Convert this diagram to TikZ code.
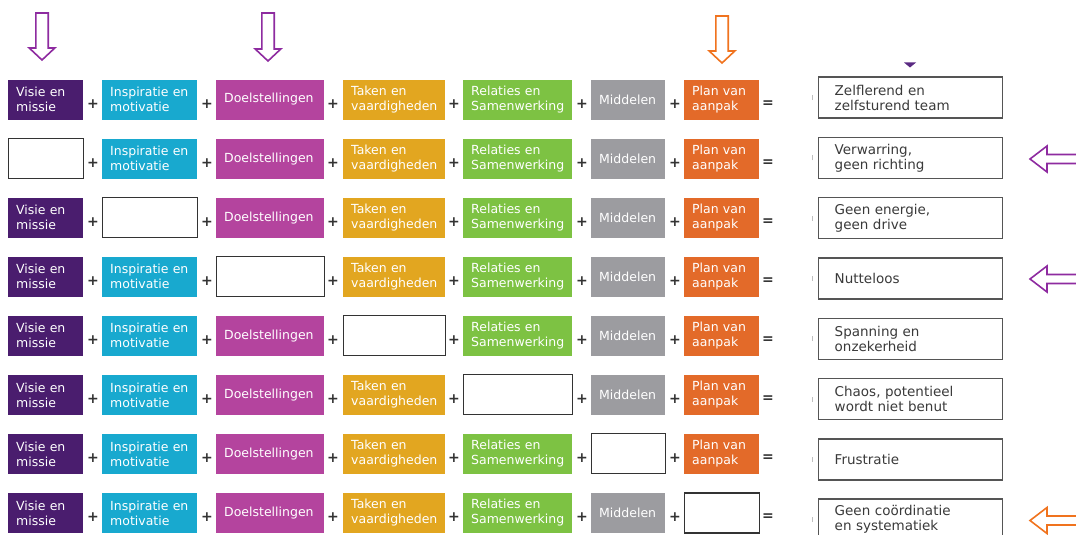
\documentclass[tikz,border=0pt]{standalone}
\usepackage{fontspec}
\setmainfont{DejaVu Sans}
\definecolor{cVisie}{HTML}{4A1D6E}
\definecolor{cInsp}{HTML}{18A9CF}
\definecolor{cDoel}{HTML}{B4449E}
\definecolor{cTaken}{HTML}{E2A620}
\definecolor{cRel}{HTML}{7DC243}
\definecolor{cMid}{HTML}{9C9CA0}
\definecolor{cPlan}{HTML}{E36A29}
\definecolor{aPurple}{HTML}{8E2BA0}
\definecolor{aOrange}{HTML}{F0731E}
\definecolor{tPurple}{HTML}{5A2A82}
\definecolor{resText}{HTML}{3A3A3A}
\definecolor{resBorder}{HTML}{555555}
\begin{document}
\begin{tikzpicture}[x=1pt,y=-1pt,
  colbox/.style={anchor=west, minimum height=40pt, inner xsep=8pt, inner ysep=0pt,
    align=left, text=white, font=\fontsize{12.5}{15}\selectfont},
  emptybox/.style={anchor=west, minimum height=40pt, draw=black!80, line width=1.1pt, fill=white},
  resbox/.style={anchor=west, minimum height=41pt, minimum width=184pt, text width=152pt,
    inner xsep=16pt, inner ysep=0pt, align=left, draw=resBorder, line width=1.4pt,
    text=resText, font=\fontsize{13.5}{15}\selectfont},
  opsign/.style={text=black!80, font=\fontsize{14}{14}\selectfont\bfseries, inner sep=0pt},
  downarrow/.style={line width=1.6pt, fill=white, line join=miter},
  tick/.style={draw=black!25, line width=0.8pt}
]
\useasboundingbox (0,0) rectangle (1076,535);

% down arrows on top
\foreach \ax/\at/\ab/\ac [count=\n] in {42/13/60/aPurple, 268/13/61/aPurple, 722/16/63/aOrange}{
  \draw[downarrow, draw=\ac] (\ax-6.2,\at) -- (\ax+6.2,\at) -- (\ax+6.2,\ab-12) -- (\ax+12.8,\ab-12)
    -- (\ax,\ab) -- (\ax-12.8,\ab-12) -- (\ax-6.2,\ab-12) -- cycle;
}
% small triangle fragment
\fill[tPurple] (904,62.5) -- (916,62.5) -- (910,67.5) -- cycle;

\foreach \i in {1,...,8}{
  \pgfmathsetmacro\yc{99.5+59.07*(\i-1)}
  \pgfmathsetmacro\ys{\yc+4.5}
  \pgfmathtruncatemacro\e{\i-1}
  \foreach \j/\x/\w/\col/\txt in {
      1/8/75/cVisie/{Visie en\\missie},
      2/102/95/cInsp/{Inspiratie en\\motivatie},
      3/216/108/cDoel/{Doelstellingen},
      4/343/102/cTaken/{Taken en\\vaardigheden},
      5/463/109/cRel/{Relaties en\\Samenwerking},
      6/591/74/cMid/{Middelen},
      7/684/75/cPlan/{Plan van\\aanpak}}{
    \pgfmathsetmacro\tw{\w-16}
    \ifnum\e=\j
      \node[emptybox, minimum width=\w pt] (r\i c\j) at (\x,\yc) {};
    \else
      \node[colbox, fill=\col, minimum width=\w pt, text width=\tw pt] (r\i c\j) at (\x,\yc) {\txt};
    \fi
  }
  \foreach \px [count=\k] in {93,207,333,454,582,675}{
    \node[opsign] (p\i-\k) at (\px,\ys) {+};
  }
  \node[opsign] (eq\i) at (768,\ys) {=};
}

% result boxes
\foreach \i/\txt in {1/{Zelflerend en\\zelfsturend team}, 2/{Verwarring,\\geen richting},
    3/{Geen energie,\\geen drive}, 4/{Nutteloos}, 5/{Spanning en\\onzekerheid},
    6/{Chaos, potentieel\\wordt niet benut}, 7/{Frustratie}, 8/{Geen coördinatie\\en systematiek}}{
  \pgfmathsetmacro\ry{97.5+60.3*(\i-1)}
  \node[resbox] (res\i) at (818,\ry) {\txt};
  \coordinate (tk\i) at (812,\ry);
  \draw[tick] ([yshift=-2.5pt]tk\i) -- ([yshift=2.5pt]tk\i);
}

% left-pointing arrows
\foreach \ly/\lc in {159/aPurple, 279/aPurple, 520.5/aOrange}{
  \draw[downarrow, draw=\lc] (1085,\ly-4.5) -- (1047,\ly-4.5) -- (1047,\ly-13) -- (1030,\ly)
    -- (1047,\ly+13) -- (1047,\ly+4.5) -- (1085,\ly+4.5);
}
\end{tikzpicture}
\end{document}
